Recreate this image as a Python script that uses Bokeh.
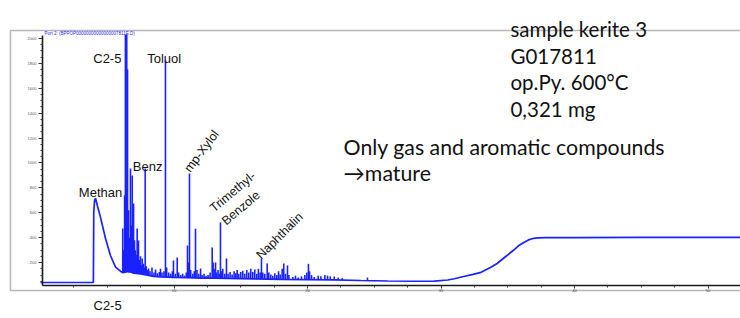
from bokeh.plotting import figure
from bokeh.models import (Range1d, FixedTicker, Label, BoxAnnotation, ColumnDataSource,
                          LinearAxis)
from bokeh.embed import file_html
from bokeh.resources import INLINE

# ---- data (retention time in min, intensity in counts) ----
base_t = [0.0, 3.96, 3.99, 4.05, 4.12, 4.25, 4.49, 4.87, 5.24, 5.62, 5.99, 6.15, 6.6, 7.0,
          7.5, 8.0, 8.5, 9.0, 10.0, 11.0, 12.0, 13.0, 14.0, 16.0, 18.0, 20.0, 22.0, 24.0,
          26.0, 28.0, 29.5, 30.5, 31.0, 31.7, 32.4, 33.0, 33.7, 34.2, 34.8, 35.4, 35.8,
          36.2, 36.55, 36.9, 37.3, 37.8, 40.0, 45.0, 52.4]
base_v = [40, 40, 600, 700, 717, 660, 565, 394, 257, 163, 131, 120, 130, 115,
          110, 100, 90, 86, 82, 79, 76, 75, 73, 70, 66, 64, 61, 56,
          52, 50, 51, 60, 70, 88, 105, 122, 160, 193, 245, 297, 335,
          362, 382, 394, 399, 401, 401, 402, 403]

peak_t = [6.16, 6.24, 6.30, 6.36, 6.41, 6.46, 6.52, 6.60, 6.67, 6.74, 6.80, 6.87, 6.93, 6.97,
          7.04, 7.10, 7.17, 7.24, 7.30, 7.34, 7.41, 7.49, 7.56, 7.62, 7.70, 7.78, 7.84, 7.92,
          8.00, 8.09, 8.20, 8.35, 8.50, 8.62, 8.75, 8.90, 8.99, 9.10, 9.25, 9.36, 9.45, 9.60,
          9.75, 9.88, 9.96, 10.10, 10.24, 10.35, 10.50, 10.65, 10.80, 10.92, 11.01, 11.08,
          11.16, 11.25, 11.40, 11.52, 11.61, 11.72, 11.85, 11.99, 12.10, 12.25, 12.40, 12.55,
          12.70, 12.86, 12.93, 13.00, 13.11, 13.20, 13.30, 13.39, 13.48, 13.56, 13.65, 13.80,
          13.93, 14.05, 14.20, 14.35, 14.50, 14.62, 14.73, 14.85, 15.00, 15.15, 15.30, 15.45,
          15.60, 15.75, 15.90, 16.05, 16.20, 16.32, 16.45, 16.55, 16.65, 16.80, 16.98, 17.10,
          17.25, 17.40, 17.55, 17.70, 17.83, 17.95, 18.10, 18.22, 18.35, 18.50, 18.60, 18.90,
          19.10, 19.30, 19.55, 19.80, 19.95, 20.07, 20.15, 20.30, 20.50, 20.80, 21.00, 21.30,
          21.50, 21.70, 22.00, 22.30, 22.60, 24.49]
peak_h = [474, 300, 740, 2030, 2030, 2030, 1750, 620, 400, 956, 500, 900, 450, 675,
          380, 300, 260, 474, 300, 378, 220, 250, 180, 233, 190, 160, 956, 170,
          140, 153, 130, 160, 120, 145, 115, 125, 150, 120, 130, 1823, 160, 120,
          110, 130, 217, 110, 241, 120, 100, 110, 95, 120, 337, 200,
          916, 140, 110, 130, 471, 140, 110, 153, 100, 110, 95, 100,
          120, 321, 200, 150, 201, 120, 140, 110, 522, 130, 150, 110,
          233, 110, 125, 105, 130, 115, 140, 110, 125, 135, 110, 140,
          120, 150, 125, 145, 110, 150, 120, 233, 120, 110, 193, 120,
          105, 95, 115, 100, 130, 105, 150, 193, 110, 177, 100, 85,
          95, 80, 90, 100, 120, 190, 130, 100, 85, 95, 90, 100,
          95, 90, 88, 80, 75, 80]
peak_floor = [120, 120, 120, 130, 130, 130, 130, 120, 120, 120, 120, 120, 115, 115,
              115, 115, 115, 115, 110, 110, 110, 110, 110, 110, 105, 105, 105, 100,
              100, 95, 95, 90, 90, 88, 88, 86, 86, 85, 85, 85, 85, 84,
              84, 83, 83, 82, 82, 82, 80, 80, 80, 79, 79, 79,
              79, 78, 78, 78, 78, 77, 77, 77, 76, 76, 76, 75,
              75, 75, 75, 75, 75, 75, 74, 74, 74, 74, 74, 73,
              73, 73, 73, 72, 72, 72, 72, 72, 71, 71, 71, 70,
              70, 70, 70, 70, 70, 70, 69, 69, 69, 69, 68, 68,
              68, 68, 67, 67, 67, 67, 66, 66, 66, 66, 66, 65,
              65, 65, 64, 64, 64, 64, 64, 63, 63, 62, 62, 62,
              62, 61, 61, 60, 60, 56]

x_major = [10, 20, 30, 40, 50]
x_minor = [2.5, 5, 7.5, 12.5, 15, 17.5, 22.5, 25, 27.5, 32.5, 35, 37.5, 42.5, 45, 47.5, 52.5]
y_major = [200, 400, 600, 800, 1000, 1200, 1400, 1600, 1800, 2000]
y_minor = [50, 100, 150, 250, 300, 350, 450, 500, 550, 650, 700, 750, 850, 900, 950,
           1050, 1100, 1150, 1250, 1300, 1350, 1450, 1500, 1550, 1650, 1700, 1750,
           1850, 1900, 1950]

peak_names = ["C2-5", "Toluol", "Benz", "Methan"]
peak_name_pos = [(3.95, 1837), (7.99, 1837), (6.91, 972), (2.87, 765)]
rot_names = ["mp-Xylol", "Trimethyl-", "Benzole", "Naphthalin"]
rot_pos = [(11.4, 905, 53), (13.15, 582, 40), (14.05, 478, 40), (16.7, 205, 45)]

note_lines = ["sample kerite 3", "G017811", "op.Py. 600°C", "0,321 mg"]
note_y = [2080, 1863, 1647, 1430]
remark_lines = ["Only gas and aromatic compounds", "\u2192mature"]
remark_y = [1127, 916]

BLUE = "#1a22ff"
ARIAL = "Liberation Sans"

# data window that covers the whole canvas; inner chart area is 0.15..52.43 x 16..2024
p = figure(width=740, height=318, output_backend="svg", toolbar_location=None,
           x_range=Range1d(-2.996, 52.43), y_range=Range1d(-249, 2305),
           x_axis_location=None, y_axis_location=None,
           min_border_left=0, min_border_right=0, min_border_top=0, min_border_bottom=0)
p.grid.visible = False
p.outline_line_color = None
p.background_fill_color = "white"
p.border_fill_color = "white"

yax = LinearAxis(fixed_location=0.15, bounds=(16, 2024),
                 ticker=FixedTicker(ticks=y_major, minor_ticks=y_minor))
xax = LinearAxis(fixed_location=16, bounds=(0.15, 52.43),
                 ticker=FixedTicker(ticks=x_major, minor_ticks=x_minor))
for ax in (xax, yax):
    ax.axis_line_color = "#1a1a1a"
    ax.axis_line_width = 1.6
    ax.major_tick_line_color = "#333333"
    ax.minor_tick_line_color = "#333333"
    ax.major_label_text_font_size = "4px"
    ax.major_label_text_color = "#555555"
    ax.major_label_text_font = ARIAL
    ax.major_tick_in = 0
    ax.minor_tick_in = 0
    ax.minor_tick_out = 2
xax.major_tick_out = 3
xax.major_label_standoff = 0
yax.major_tick_out = 4
yax.major_label_standoff = 2
p.add_layout(yax, "left")
p.add_layout(xax, "below")

# outer frame of the figure
p.add_layout(BoxAnnotation(left=-2.25, right=60, top=2064, bottom=-24,
                           fill_color=None, fill_alpha=0, line_color="#111111", line_width=1.6))

# trace
p.line(base_t, base_v, line_color=BLUE, line_width=1.7)
src = ColumnDataSource(dict(t=peak_t, h=peak_h, f=peak_floor))
p.segment(x0="t", y0="f", x1="t", y1="h", source=src, line_color=BLUE, line_width=1.6)

# header text
p.add_layout(Label(x=0.3, y=2036, text="Port 2: (BPPOP00000000000000007811E.D)",
                   text_font=ARIAL, text_font_size="4.5px", text_color=BLUE,
                   text_baseline="middle"))

for name, (x, y) in zip(peak_names, peak_name_pos):
    p.add_layout(Label(x=x, y=y, text=name, text_font=ARIAL, text_font_size="13px",
                       text_color="#111111", text_baseline="alphabetic"))
for name, (x, y, a) in zip(rot_names, rot_pos):
    p.add_layout(Label(x=x, y=y, text=name, text_font=ARIAL, text_font_size="12.5px",
                       text_color="#111111", text_baseline="bottom", angle=a, angle_units="deg"))

p.add_layout(Label(x=3.97, y=-145, text="C2-5", text_font=ARIAL, text_font_size="13px",
                   text_color="#111111", text_baseline="middle"))

for line, y in zip(note_lines, note_y):
    p.add_layout(Label(x=35.2, y=y, text=line, text_font="Lato", text_font_size="20.5px",
                       text_color="#111111", text_baseline="alphabetic"))
for line, y in zip(remark_lines, remark_y):
    p.add_layout(Label(x=22.7, y=y, text=line, text_font="Lato", text_font_size="21.3px",
                       text_color="#111111", text_baseline="alphabetic"))

open("out.html", "w").write(file_html(p, INLINE))
